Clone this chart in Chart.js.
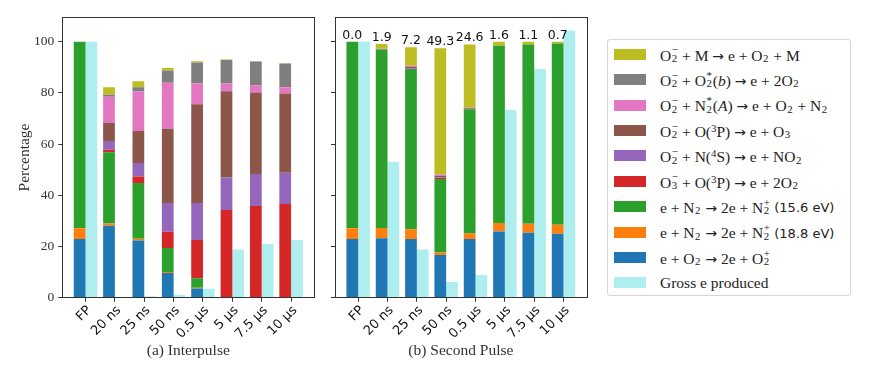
<!DOCTYPE html>
<html>
<head>
<meta charset="utf-8">
<script src="https://cdn.jsdelivr.net/npm/chart.js@4/dist/chart.umd.min.js"></script>
<style>
  body { margin: 0; background: #fff; }
  #wrap { position: relative; width: 872px; height: 379px; overflow: hidden; }
  .panel { position: absolute; top: 0; height: 379px; }
  #legend {
    position: absolute; left: 607px; top: 39px; width: 242px; height: 255px;
    border: 1px solid #d6d6d6; border-radius: 3px; background: #fff;
    font-family: "Liberation Serif", serif; font-size: 15.5px; color: #222;
  }
  .row { position: absolute; left: 0; height: 26px; display: flex; align-items: center; white-space: nowrap; }
  .sw { width: 32px; height: 11px; margin-left: 6px; margin-right: 14px; }
  .ss { display: inline-block; position: relative; width: 0.45em; height: 1em; }
  .ss .u, .ss .d { position: absolute; left: 0.05em; font-size: 0.7em; line-height: 1; }
  .ss .u { bottom: 0.45em; }
  .ss .d { bottom: -0.35em; }
  .sp { font-size: 0.7em; vertical-align: 0.4em; }
  .ar { font-family: "DejaVu Sans", sans-serif; font-size: 0.9em; }
  .sans { font-family: "DejaVu Sans", sans-serif; font-size: 13px; margin-left: 4px; }
</style>
</head>
<body>
<div id="wrap">
  <div class="panel" style="left:0;width:322px"><canvas id="a"></canvas></div>
  <div class="panel" style="left:322px;width:270px"><canvas id="b"></canvas></div>
  <div id="legend"></div>
</div>
<script>
const categories = ['FP', '20 ns', '25 ns', '50 ns', '0.5 \u00b5s', '5 \u00b5s', '7.5 \u00b5s', '10 \u00b5s'];
const yTicks = [0, 20, 40, 60, 80, 100];

// (a) Interpulse, segment heights in %
const ipIonO2   = [22.9, 28.1, 22.3,  9.6,  3.6,  0.0,  0.0,  0.0];
const ipIonN2b  = [ 4.2,  0.9,  0.7,  0.4,  0.3,  0.0,  0.0,  0.0];
const ipIonN2a  = [72.9, 27.8, 21.8,  9.4,  3.7,  0.0,  0.0,  0.0];
const ipO3mO    = [ 0.0,  1.0,  2.5,  6.4, 14.9, 34.2, 35.8, 36.6];
const ipO2mN    = [ 0.0,  3.4,  5.3, 11.2, 14.5, 12.7, 12.5, 12.2];
const ipO2mO    = [ 0.0,  7.0, 12.5, 29.0, 38.5, 33.7, 31.8, 30.9];
const ipO2mN2A  = [ 0.0, 10.3, 15.4, 17.9,  8.2,  3.0,  2.8,  2.5];
const ipO2mO2b  = [ 0.0,  0.8,  1.7,  4.8,  8.1,  9.2,  9.3,  9.3];
const ipO2mM    = [ 0.0,  2.9,  2.3,  1.0,  0.5,  0.2,  0.1,  0.1];
const ipGross   = [100.0, 0.3,  0.6,  1.2,  3.5, 18.8, 21.0, 22.5];

// (b) Second pulse
const spIonO2   = [22.9, 23.2, 22.9, 16.7, 22.9, 25.9, 25.4, 25.0];
const spIonN2b  = [ 4.2,  4.0,  3.8,  1.0,  2.2,  3.3,  3.5,  3.5];
const spIonN2a  = [72.9, 69.7, 62.6, 28.7, 48.5, 69.2, 70.0, 70.8];
const spO3mO    = [ 0.0,  0.0,  0.0,  0.3,  0.0,  0.0,  0.0,  0.0];
const spO2mN    = [ 0.0,  0.0,  0.3,  0.3,  0.0,  0.0,  0.0,  0.0];
const spO2mO    = [ 0.0,  0.1,  0.5,  0.6,  0.4,  0.0,  0.0,  0.0];
const spO2mN2A  = [ 0.0,  0.2,  0.5,  0.5,  0.3,  0.0,  0.0,  0.0];
const spO2mO2b  = [ 0.0,  0.0,  0.0,  0.0,  0.0,  0.0,  0.0,  0.0];
const spO2mM    = [ 0.0,  1.9,  7.2, 49.3, 24.6,  1.6,  1.1,  0.7];
const spGross   = [100.0, 53.1, 18.8, 6.1,  8.9, 73.3, 89.3, 104.3];

// bottom to top
const colors = ['#1f77b4', '#ff7f0e', '#2ca02c', '#d62728', '#9467bd', '#8c564b', '#e377c2', '#7f7f7f', '#bcbd22'];
const grossColor = '#afeeee';
const O2m = '<span class="ss"><span class="u">\u2212</span><span class="d">2</span></span>';
const O3m = '<span class="ss"><span class="u">\u2212</span><span class="d">3</span></span>';
const N2p = '<span class="ss"><span class="u">+</span><span class="d">2</span></span>';
const O2p = N2p;
const sub2 = '<span class="ss"><span class="d">2</span></span>';
const star2 = '<span class="ss"><span class="u">*</span><span class="d">2</span></span>';
const to = ' <span class="ar">\u2192</span> ';
const labels = [
  'e + O' + sub2 + to + '2e + O' + O2p,
  'e + N' + sub2 + to + '2e + N' + N2p + '<span class="sans">(18.8 eV)</span>',
  'e + N' + sub2 + to + '2e + N' + N2p + '<span class="sans">(15.6 eV)</span>',
  'O' + O3m + ' + O(<span class="sp">3</span>P)' + to + 'e + 2O' + sub2,
  'O' + O2m + ' + N(<span class="sp">4</span>S)' + to + 'e + NO' + sub2,
  'O' + O2m + ' + O(<span class="sp">3</span>P)' + to + 'e + O<span class="ss"><span class="d">3</span></span>',
  'O' + O2m + ' + N' + star2 + '(<i>A</i>)' + to + 'e + O' + sub2 + ' + N' + sub2,
  'O' + O2m + ' + O' + star2 + '(<i>b</i>)' + to + 'e + 2O' + sub2,
  'O' + O2m + ' + M' + to + 'e + O' + sub2 + ' + M'
];
const grossLabel = 'Gross e produced';

function datasets(series, gross) {
  const ds = series.map((d, i) => ({
    data: d, backgroundColor: colors[i], stack: 'r', borderWidth: 0
  }));
  ds.push({ data: gross, backgroundColor: grossColor, stack: 'g', borderWidth: 0 });
  return ds;
}

const frame = {
  id: 'frame',
  afterDraw(chart) {
    const { ctx, chartArea: a } = chart;
    ctx.save();
    ctx.strokeStyle = '#333';
    ctx.lineWidth = 1;
    ctx.strokeRect(Math.round(a.left) + 0.5, Math.round(a.top) + 0.5, Math.round(a.right - a.left), Math.round(a.bottom - a.top));
    ctx.restore();
  }
};

const topLabels = {
  id: 'topLabels',
  afterDatasetsDraw(chart) {
    const meta = chart.getDatasetMeta(colors.length - 1);
    const { ctx } = chart;
    ctx.save();
    ctx.font = '12.5px "DejaVu Sans"';
    ctx.fillStyle = '#111';
    ctx.textAlign = 'center';
    ctx.textBaseline = 'bottom';
    meta.data.forEach((bar, i) => ctx.fillText(spO2mM[i].toFixed(1), bar.x, bar.y));
    ctx.restore();
  }
};

function makeChart(id, series, gross, title, yLeft, showY, padRight, extra) {
  return new Chart(document.getElementById(id), {
    type: 'bar',
    data: { labels: categories.map((c, i) => i), datasets: datasets(series, gross) },
    plugins: [frame].concat(extra),
    options: {
      responsive: true,
      maintainAspectRatio: false,
      animation: false,
      layout: { padding: { top: 17.3, right: padRight, bottom: 0, left: 0 } },
      plugins: { legend: { display: false }, tooltip: { enabled: false } },
      datasets: { bar: { categoryPercentage: 0.8, barPercentage: 1.0 } },
      scales: {
        x: {
          type: 'linear',
          stacked: true,
          offset: false,
          min: -0.79,
          max: 7.79,
          afterBuildTicks: s => { s.ticks = categories.map((c, i) => ({ value: i })); },
          afterFit: s => { s.height = 81.3; },
          grid: { drawOnChartArea: false, drawTicks: true, tickLength: 4, tickColor: '#333', offset: false },
          border: { display: false },
          ticks: {
            minRotation: 45, maxRotation: 45, padding: 1, labelOffset: 4,
            color: '#111', font: { family: 'DejaVu Sans', size: 13 },
            callback: v => categories[v]
          },
          title: {
            display: true, text: title, color: '#333',
            font: { family: 'Liberation Serif', size: 15.5 },
            padding: { top: 0, bottom: 19 }
          }
        },
        y: {
          stacked: true,
          min: 0,
          max: 109.5,
          afterBuildTicks: s => { s.ticks = yTicks.map(v => ({ value: v })); },
          afterFit: s => { s.width = yLeft; },
          grid: { drawOnChartArea: false, drawTicks: true, tickLength: 4, tickColor: '#333' },
          border: { display: false },
          ticks: {
            display: showY, padding: 4, color: '#333',
            font: { family: 'Liberation Serif', size: 13.5 }
          },
          title: {
            display: showY, text: 'Percentage', color: '#333',
            font: { family: 'Liberation Serif', size: 15.5 },
            padding: { top: 15.5, bottom: 0 }
          }
        }
      }
    }
  });
}

makeChart('a',
  [ipIonO2, ipIonN2b, ipIonN2a, ipO3mO, ipO2mN, ipO2mO, ipO2mN2A, ipO2mO2b, ipO2mM],
  ipGross, '(a) Interpulse', 62.3, true, 7.7, []);
makeChart('b',
  [spIonO2, spIonN2b, spIonN2a, spO3mO, spO2mN, spO2mO, spO2mN2A, spO2mO2b, spO2mM],
  spGross, '(b) Second Pulse', 13, false, 5.3, [topLabels]);

// legend, top entry first
const legend = document.getElementById('legend');
const entries = labels.map((l, i) => ({ html: l, color: colors[i] })).reverse();
entries.push({ html: grossLabel, color: grossColor });
entries.forEach((e, i) => {
  const row = document.createElement('div');
  row.className = 'row';
  row.style.top = (1.3 + i * 25.4) + 'px';
  row.innerHTML = '<span class="sw" style="background:' + e.color + '"></span><span>' + e.html + '</span>';
  legend.appendChild(row);
});
</script>
</body>
</html>
